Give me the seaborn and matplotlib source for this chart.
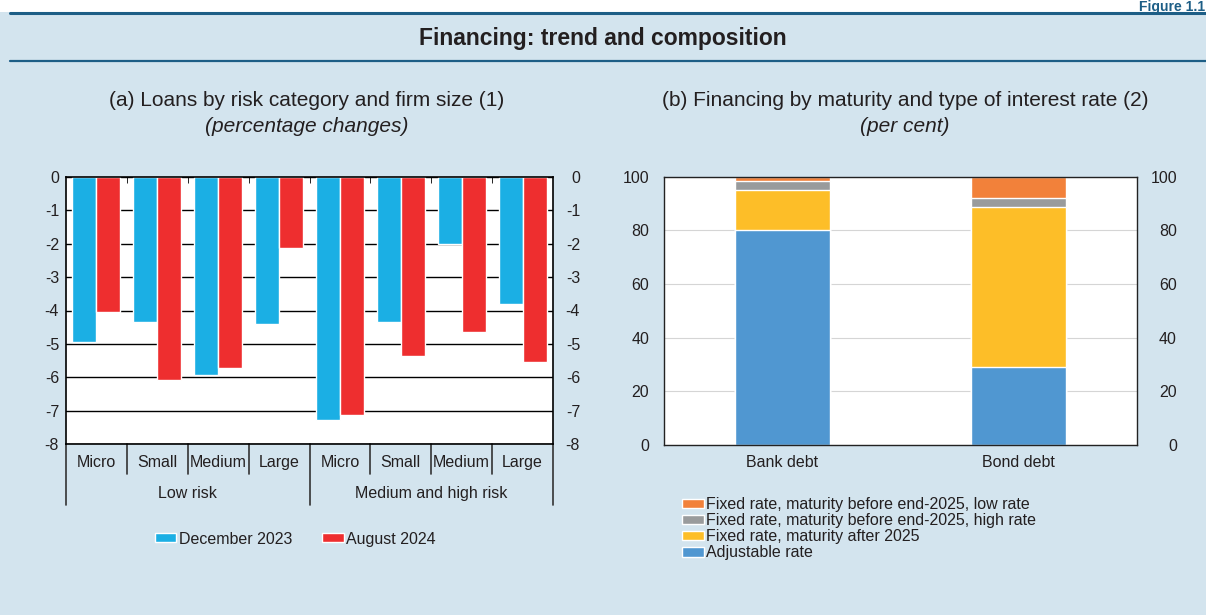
import numpy as np
import pandas as pd
import matplotlib
matplotlib.use("Agg")
import matplotlib.pyplot as plt
import matplotlib.transforms as mtransforms
from matplotlib.patches import Patch
import seaborn as sns

# ---- data: panel (a) ----
risk_groups = ["Low risk", "Medium and high risk"]
firm_sizes = ["Micro", "Small", "Medium", "Large"]
periods = ["December 2023", "August 2024"]
dec_2023 = [-4.93, -4.33, -5.92, -4.40, -7.28, -4.34, -2.02, -3.82]
aug_2024 = [-4.03, -6.08, -5.73, -2.14, -7.13, -5.37, -4.65, -5.55]

# ---- data: panel (b) ----
debt_types = ["Bank debt", "Bond debt"]
adjustable = [80.0, 29.1]
fixed_after_2025 = [15.0, 59.7]
fixed_before_high = [3.3, 3.3]
fixed_before_low = [1.7, 7.9]
layer_labels = ["Adjustable rate",
                "Fixed rate, maturity after 2025",
                "Fixed rate, maturity before end-2025, high rate",
                "Fixed rate, maturity before end-2025, low rate"]

BG = "#D3E4EE"
DARK = "#1D5E86"
TXT = "#231F20"
FS = 11.5

sns.set_style("white")
plt.rcParams["font.family"] = ["Liberation Sans", "DejaVu Sans"]
plt.rcParams["text.color"] = TXT
plt.rcParams["xtick.color"] = TXT
plt.rcParams["ytick.color"] = TXT

W, H = 1206, 615
fig = plt.figure(figsize=(W / 100, H / 100), dpi=100)
fig.patch.set_facecolor(BG)


def fx(px):
    return px / W


def fy(py):
    return 1 - py / H


# white strip on top and header lines
fig.patches.append(plt.Rectangle((0, fy(12)), 1, 12 / H, transform=fig.transFigure,
                                 facecolor="white", edgecolor="none", zorder=0))
fig.lines.append(plt.Line2D([fx(10), 1], [fy(13)] * 2, transform=fig.transFigure, color=DARK, lw=2.2))
fig.lines.append(plt.Line2D([fx(10), 1], [fy(61)] * 2, transform=fig.transFigure, color=DARK, lw=1.6))
fig.text(0.999, 1.0, "Figure 1.1", ha="right", va="top", fontsize=10,
         fontweight="bold", color=DARK)
fig.text(0.5, fy(38), "Financing: trend and composition", ha="center", va="center",
         fontsize=16.5, fontweight="bold")

# ================= panel (a) =================
slots = [f"{g}|{s}" for g in risk_groups for s in firm_sizes]
df_a = pd.DataFrame({
    "slot": slots * 2,
    "period": [periods[0]] * len(slots) + [periods[1]] * len(slots),
    "value": dec_2023 + aug_2024,
})

ax1 = fig.add_axes([fx(66), fy(444), 487 / W, 267 / H])
ax1.set_facecolor("white")
sns.barplot(data=df_a, x="slot", y="value", hue="period", order=slots, hue_order=periods,
            palette=["#1BAFE4", "#EE2E2F"], width=0.79, saturation=1, ax=ax1)
yt_a = np.arange(-8, 1, 1)
ax1.set_ylim(-8, 0)
ax1.set_xlim(-0.5, len(slots) - 0.5)
ax1.set_yticks(yt_a)
ax1.set_yticklabels([str(v) for v in yt_a])
ax1.yaxis.grid(True, color="black", lw=1)
ax1.set_axisbelow(True)
ax1.set_xlabel("")
ax1.set_ylabel("")
ax1.set_xticks([])
ax1.set_xticks(np.arange(0.5, len(slots) - 1, 1), minor=True)
ax1.tick_params(axis="x", which="minor", top=True, bottom=False, direction="in", length=4,
                color="black", labelbottom=False)
ax1.tick_params(axis="y", left=False, length=0, labelsize=FS, pad=5)
for sp in ax1.spines.values():
    sp.set_color("black")
    sp.set_linewidth(1.2)

ax1r = ax1.twinx()
ax1r.set_ylim(-8, 0)
ax1r.set_yticks(yt_a)
ax1r.set_yticklabels([str(v) for v in yt_a], ha="right")
ax1r.tick_params(axis="y", length=0, labelsize=FS, pad=19.5)
for sp in ax1r.spines.values():
    sp.set_visible(False)

trans = mtransforms.blended_transform_factory(ax1.transData, ax1.transAxes)
for i, s in enumerate(slots):
    ax1.text(i, -0.07, s.split("|")[1], transform=trans, ha="center", va="center", fontsize=FS)
for b in np.arange(-0.5, len(slots), 1):
    group_edge = (b + 0.5) % len(firm_sizes) == 0
    ax1.plot([b, b], [0, -0.228 if group_edge else -0.112], transform=trans, color="#333333",
             lw=1.2, clip_on=False)
for gi, g in enumerate(risk_groups):
    ax1.text(gi * len(firm_sizes) + (len(firm_sizes) - 1) / 2, -0.184, g, transform=trans,
             ha="center", va="center", fontsize=FS)

sns.move_legend(ax1, "center", bbox_to_anchor=(0.471, -0.356), ncol=2, frameon=False,
                title=None, fontsize=FS, handlelength=1.35, handleheight=0.5,
                handletextpad=0.15, columnspacing=1.9)

fig.text(fx(306.5), fy(101), "(a) Loans by risk category and firm size (1)",
         ha="center", va="center", fontsize=15)
fig.text(fx(306.5), fy(127), "(percentage changes)", ha="center", va="center",
         fontsize=15, style="italic")

# ================= panel (b) =================
layers = [adjustable, fixed_after_2025, fixed_before_high, fixed_before_low]
layer_colors = ["#5097D1", "#FDBE28", "#999B9C", "#F2813A"]
tops = np.cumsum(np.array(layers), axis=0)

ax2 = fig.add_axes([fx(664.3), fy(445), 472.4 / W, 268.3 / H])
ax2.set_facecolor("white")
for k in range(len(layers) - 1, -1, -1):
    df_b = pd.DataFrame({"debt": debt_types, "top": tops[k]})
    sns.barplot(data=df_b, x="debt", y="top", order=debt_types, color=layer_colors[k],
                width=0.4, saturation=1, ax=ax2)
yt_b = np.arange(0, 101, 20)
ax2.set_ylim(0, 100)
ax2.set_xlim(-0.5, 1.5)
ax2.set_yticks(yt_b)
ax2.yaxis.grid(True, color="#D5D5D5", lw=0.8)
ax2.set_axisbelow(True)
ax2.set_xlabel("")
ax2.set_ylabel("")
ax2.tick_params(axis="x", bottom=False, length=0, labelsize=FS, pad=7)
ax2.tick_params(axis="y", left=False, length=0, labelsize=FS, pad=11)
for sp in ax2.spines.values():
    sp.set_color("#222222")
    sp.set_linewidth(1.0)

ax2r = ax2.twinx()
ax2r.set_ylim(0, 100)
ax2r.set_yticks(yt_b)
ax2r.set_yticklabels([str(v) for v in yt_b], ha="right")
ax2r.tick_params(axis="y", length=0, labelsize=FS, pad=29)
for sp in ax2r.spines.values():
    sp.set_visible(False)

handles = [Patch(facecolor=layer_colors[k], label=layer_labels[k])
           for k in range(len(layers) - 1, -1, -1)]
fig.legend(handles=handles, loc="upper left", bbox_to_anchor=(fx(682), fy(497)),
           frameon=False, fontsize=FS, handlelength=1.35, handleheight=0.55,
           handletextpad=0.15, labelspacing=0.07, borderaxespad=0, borderpad=0)

fig.text(fx(905), fy(101), "(b) Financing by maturity and type of interest rate (2)",
         ha="center", va="center", fontsize=15)
fig.text(fx(905), fy(127), "(per cent)", ha="center", va="center",
         fontsize=15, style="italic")

fig.savefig("out.png", dpi=100, facecolor=BG)
